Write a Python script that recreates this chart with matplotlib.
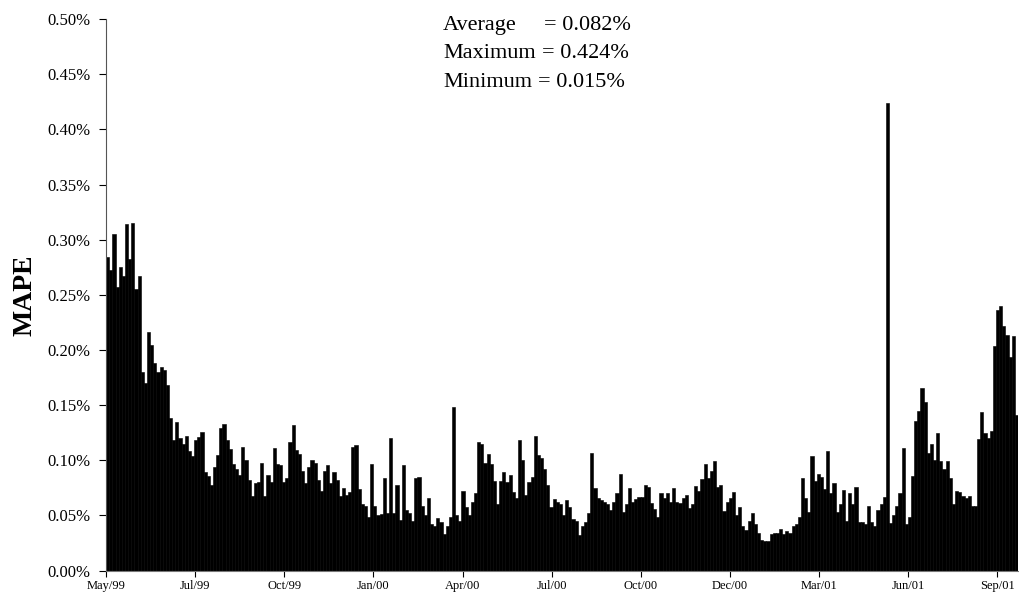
import numpy as np
import pandas as pd
import matplotlib
matplotlib.use("Agg")
import matplotlib.pyplot as plt
from matplotlib.ticker import FuncFormatter, MultipleLocator

# Forecast error (MAPE, %) over the period from 1 May 1999, evenly spaced samples
start = pd.Timestamp("1999-05-01")
span_days = 890
tick_days = 87

mape_pct = [
    0.284, 0.273, 0.305, 0.257, 0.275, 0.267, 0.314, 0.283, 0.315, 0.255,
    0.267, 0.180, 0.170, 0.216, 0.205, 0.188, 0.180, 0.185, 0.182, 0.168,
    0.138, 0.118, 0.135, 0.120,
    0.115, 0.122, 0.108, 0.104, 0.118, 0.121, 0.126, 0.089, 0.086, 0.078,
    0.094, 0.105, 0.129, 0.133, 0.118, 0.110, 0.097, 0.092, 0.087, 0.112,
    0.100, 0.082, 0.068, 0.079,
    0.080, 0.098, 0.068, 0.087, 0.080, 0.111, 0.097, 0.096, 0.080, 0.084,
    0.117, 0.132, 0.109, 0.106, 0.090, 0.079, 0.094, 0.100, 0.098, 0.082,
    0.072, 0.090, 0.096, 0.079,
    0.089, 0.082, 0.068, 0.075, 0.069, 0.071, 0.112, 0.114, 0.074, 0.060,
    0.059, 0.049, 0.097, 0.059, 0.050, 0.051, 0.084, 0.052, 0.120, 0.052,
    0.078, 0.046, 0.096, 0.055,
    0.052, 0.045, 0.084, 0.085, 0.059, 0.050, 0.066, 0.042, 0.040, 0.048,
    0.044, 0.033, 0.040, 0.049, 0.148, 0.050, 0.045, 0.072, 0.058, 0.050,
    0.062, 0.070, 0.117, 0.115,
    0.098, 0.106, 0.097, 0.081, 0.060, 0.081, 0.089, 0.080, 0.087, 0.071,
    0.066, 0.118, 0.100, 0.069, 0.080, 0.085, 0.122, 0.105, 0.102, 0.092,
    0.078, 0.058, 0.065,
    0.062, 0.060, 0.050, 0.064, 0.058, 0.047, 0.045, 0.032, 0.040, 0.044,
    0.052, 0.107, 0.075, 0.066, 0.064, 0.062, 0.060, 0.055, 0.062, 0.070,
    0.088, 0.053, 0.060, 0.075, 0.062, 0.065, 0.067, 0.067, 0.078, 0.076,
    0.061, 0.056, 0.049, 0.070, 0.066, 0.070, 0.062, 0.075,
    0.062, 0.061, 0.066, 0.069, 0.057, 0.060, 0.077, 0.072, 0.083, 0.097,
    0.084, 0.090, 0.099, 0.076, 0.078, 0.054, 0.062, 0.066, 0.071, 0.050,
    0.058, 0.040, 0.037, 0.045, 0.052, 0.042, 0.034, 0.028, 0.027, 0.027,
    0.033, 0.034, 0.034, 0.038, 0.033, 0.036, 0.034, 0.040,
    0.042, 0.049, 0.084, 0.066, 0.053, 0.104, 0.081, 0.088, 0.085, 0.074,
    0.108, 0.070, 0.079, 0.053, 0.060, 0.073, 0.045, 0.070, 0.060, 0.076,
    0.044, 0.044, 0.042, 0.059, 0.044, 0.040, 0.055, 0.060, 0.067, 0.424,
    0.043, 0.050, 0.059, 0.070, 0.111,
    0.042, 0.049, 0.086, 0.136, 0.145, 0.166, 0.153, 0.107, 0.115, 0.100,
    0.125, 0.099, 0.092, 0.099, 0.084, 0.060, 0.072, 0.071, 0.068, 0.066,
    0.068, 0.059, 0.059, 0.119, 0.144, 0.125, 0.120, 0.127, 0.204, 0.236,
    0.240, 0.222, 0.214, 0.194, 0.213, 0.141,
]

stat_names = ["Average", "Maximum", "Minimum"]
stat_values = [0.082, 0.424, 0.015]

plt.rcParams['font.family'] = ['Liberation Serif', 'DejaVu Serif']

fig = plt.figure(figsize=(10.2, 6.0), dpi=100)
ax = fig.add_axes([0.104, 0.049, 0.894, 0.919])

step = span_days / len(mape_pct)
x = np.arange(len(mape_pct)) * step
ax.bar(x, mape_pct, width=step, align='edge', color='black',
       edgecolor='black', linewidth=0.4)

ax.set_xlim(0, span_days)
ax.set_ylim(0, 0.5)

# y axis in percent
ax.yaxis.set_major_locator(MultipleLocator(0.05))
ax.yaxis.set_major_formatter(FuncFormatter(lambda v, pos: "%.2f%%" % v))
ax.tick_params(axis='y', direction='out', length=5, width=0.8,
               labelsize=12, pad=6, colors='black')

# x axis: a date label every 87 days
tick_pos = np.arange(0, span_days + 1, tick_days)
tick_lab = [(start + pd.Timedelta(days=int(d))).strftime("%b/%y") for d in tick_pos]
ax.set_xticks(tick_pos)
ax.set_xticklabels(tick_lab)
ax.tick_params(axis='x', direction='out', length=4, width=0.8,
               labelsize=9, pad=3)

for s in ['top', 'right']:
    ax.spines[s].set_visible(False)
ax.spines['left'].set_color('#555555')
ax.spines['bottom'].set_color('#777777')

ax.set_ylabel('MAPE', fontsize=20, fontweight='bold')
ax.yaxis.set_label_coords(-0.075, 0.5)

# summary statistics
rows_y = [0.980, 0.9293, 0.8768]
eq_x = [0.4803, 0.4775, 0.4742]
for name, val, yy, ex in zip(stat_names, stat_values, rows_y, eq_x):
    ax.text(0.3695, yy, name, transform=ax.transAxes, fontsize=16,
            va='baseline', ha='left')
    ax.text(ex, yy, "= %.3f%%" % val, transform=ax.transAxes, fontsize=16,
            va='baseline', ha='left')

fig.savefig('out.png', dpi=100)
plt.close(fig)
